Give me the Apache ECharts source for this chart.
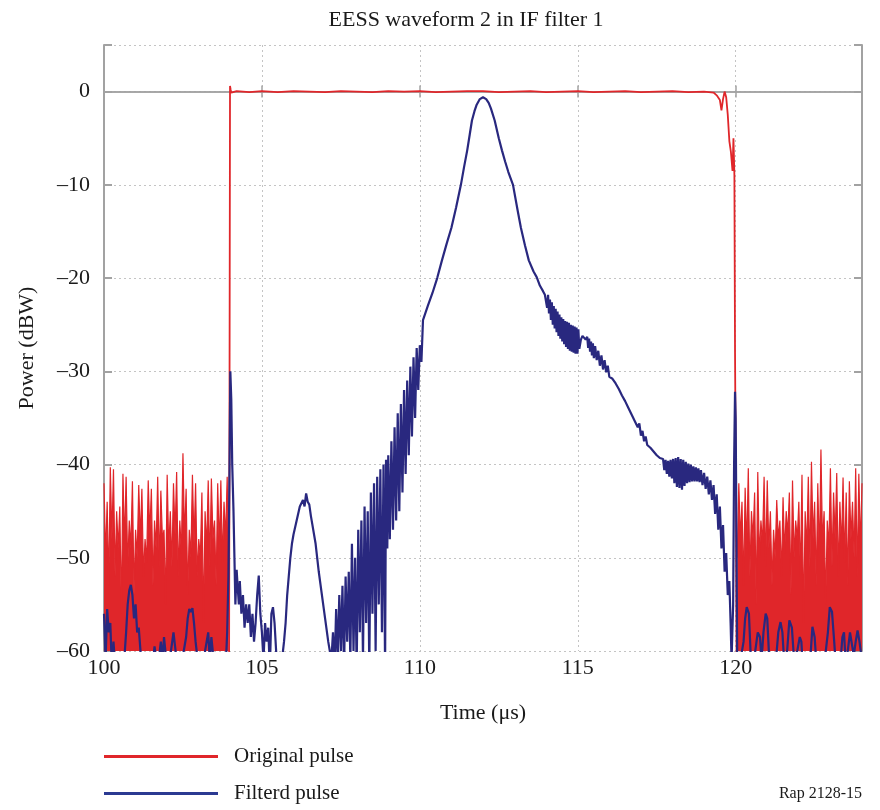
<!DOCTYPE html>
<html><head><meta charset="utf-8">
<script src="https://cdn.jsdelivr.net/npm/echarts@6/dist/echarts.min.js"></script>
<style>html,body{margin:0;padding:0;background:#fff}#c{width:880px;height:810px}</style>
</head><body><div id="c"></div>
<script>
// ---- Axis / labels ----
const chartTitle = 'EESS waveform 2 in IF filter 1';
const xName = 'Time (\u03bcs)';
const yName = 'Power (dBW)';
const xMin = 100, xMax = 124, xStep = 5;
const yMin = -60, yMax = 5, yStep = 10;
const seriesNames = ['Original pulse', 'Filterd pulse'];
const footnote = 'Rap 2128-15';

// ---- Original pulse (red) ----
const noiseStep = 0.05;           // sample spacing of the noise records (µs)
const redLeftStart = 100.0;
const redLeftNoise = [
 -42,-50, -44,-53, -40.3,-48, -40.5,-52, -45,-49, -44.5,-56, -41,-48.5, -41.3,-51, -46,-49, -41.8,-54,
 -47,-50, -42.2,-48, -42.6,-52, -48,-50.5, -41.7,-47.5, -42.6,-53, -46,-49, -41.3,-51, -42.8,-48, -47,-55,
 -41.1,-49, -45,-51, -42,-47.5, -40.8,-52, -46,-49.5, -38.8,-48, -42.6,-54, -47,-50, -41.1,-48.5, -42,-52,
 -48,-50, -43,-57, -45,-49, -41.7,-51, -41.5,-48, -46,-53, -42,-49, -41.7,-50.5, -44,-48, -41.3,-52
];
const redPulse = [
 [103.96,-62],[103.99,0.6],[104.01,0.2],[104.03,-0.1],[104.2,0.05],[104.6,-0.05],[105,0.05],[105.5,-0.05],
 [106,0.05],[106.5,0],[107,-0.05],[107.5,0.05],[108,0],[108.5,-0.05],[109,0.05],[109.5,0],[110,0.05],
 [110.5,-0.05],[111,0],[111.5,0.05],[112,0.05],[112.5,-0.05],[113,0],[113.5,0.05],[114,-0.05],[114.5,0],
 [115,0.05],[115.5,-0.05],[116,0],[116.5,0.05],[117,-0.05],[117.5,0],[118,0.05],[118.5,-0.05],[119,0],
 [119.3,-0.1],[119.4,-0.4],[119.45,-0.2],[119.5,-0.9],[119.55,-2.0],[119.6,-0.8],[119.65,0.0],[119.7,-0.6],
 [119.75,-2.5],[119.8,-5.3],[119.85,-6.5],[119.9,-8.5],[119.93,-5],[119.96,-9],[119.98,-28],[120.01,-45],[120.03,-62]
];
const redRightStart = 120.05;
const redRightNoise = [
 -50,-42, -48,-44, -53,-42.5, -49,-40.4, -52,-45, -48,-43, -55,-40.8, -50,-46, -48.5,-41.3, -51,-41.7,
 -49,-45, -53,-47, -50,-43.8, -48,-46, -52,-43.5, -49.5,-45, -47.5,-43, -54,-41.7, -50,-46, -48,-44,
 -52,-41.1, -57,-45, -49,-41.3, -51,-39.7, -48,-44, -53,-42, -50,-38.4, -48.5,-45, -55,-46, -49,-40.4,
 -51,-43, -48,-40.9, -52,-44, -49,-41.4, -50.5,-43, -53,-41.8, -48,-44, -50,-40.4, -52,-41, -49,-42
];

// ---- Filtered pulse (blue) ----
const blueLeft = [
 [100.0,-56],[100.05,-61],[100.1,-55.5],[100.15,-58],[100.2,-57],[100.25,-62],[100.3,-59],[100.4,-64],
 [100.5,-61],[100.6,-63],[100.7,-58],[100.75,-55],[100.8,-53.5],[100.85,-52.9],[100.9,-54],[100.95,-56.5],
 [101.0,-55],[101.05,-58],[101.1,-57.5],[101.2,-62],[101.3,-65],[101.4,-61],[101.5,-63],[101.6,-59.5],
 [101.7,-62],[101.8,-59],[101.85,-61],[101.9,-58.5],[102.0,-62],[102.1,-60.5],[102.2,-58],[102.3,-61],
 [102.4,-64],[102.5,-60.5],[102.6,-58.5],[102.65,-56.5],[102.7,-55.5],[102.75,-55.8],[102.8,-55.4],
 [102.85,-57],[102.9,-59],[103.0,-62],[103.1,-64],[103.2,-60],[103.3,-58],[103.35,-61],[103.4,-58.5],
 [103.5,-62],[103.6,-65],[103.7,-63],[103.8,-60.5],[103.85,-62],[103.9,-58],[103.94,-52],[103.97,-42],
 [104.0,-30],[104.03,-33],[104.06,-40],[104.1,-45],[104.13,-50],[104.16,-55],[104.2,-51.3],[104.23,-53],
 [104.27,-55],[104.3,-52.5],[104.35,-56],[104.4,-54],[104.45,-57.5],[104.5,-55],[104.55,-57],[104.6,-55],
 [104.65,-58.5],[104.7,-56],[104.75,-59],[104.8,-57],[104.85,-54],[104.9,-51.9],[104.95,-56],[105.0,-58],
 [105.05,-61],[105.1,-57],[105.15,-59],[105.2,-57.5],[105.25,-62],[105.3,-56],[105.35,-55.3],[105.4,-57],
 [105.45,-60],[105.5,-63],[105.6,-62],[105.7,-59],[105.75,-57],[105.8,-54],[105.85,-52],[105.9,-50],
 [105.95,-48.5],[106.0,-47.5],[106.1,-46],[106.2,-44.5],[106.3,-43.8],[106.35,-44.5],[106.4,-43.1],
 [106.45,-44],[106.5,-44.3],[106.55,-45.5],[106.6,-46.5],[106.7,-48.5],[106.75,-50],[106.8,-51.5],
 [106.9,-54],[107.0,-56.5],[107.1,-59],[107.2,-61]
];
const blueRise = [
 [107.25,-58],[107.3,-62],[107.35,-55.5],[107.4,-61],[107.45,-54],[107.5,-60],[107.55,-53],[107.6,-62],
 [107.65,-52],[107.7,-59],[107.75,-51.5],[107.8,-61],[107.85,-48.5],[107.9,-60],[107.95,-50],[108.0,-62],
 [108.05,-47],[108.1,-58],[108.15,-46],[108.2,-61],[108.25,-44.5],[108.3,-57],[108.35,-45],[108.4,-62],
 [108.45,-43],[108.5,-56],[108.55,-42],[108.6,-60],[108.65,-41.3],[108.7,-55],[108.75,-40.5],[108.8,-58],
 [108.85,-40],[108.9,-62],[108.93,-39.5],[108.97,-49],[109.0,-39],[109.05,-48],[109.1,-37.5],[109.15,-47],
 [109.2,-36],[109.25,-46],[109.3,-34.5],[109.35,-45],[109.4,-33.5],[109.45,-43],[109.5,-32],[109.55,-41],
 [109.6,-31],[109.65,-39],[109.7,-29.5],[109.75,-37],[109.8,-28.5],[109.85,-35],[109.9,-27.5],
 [109.95,-32],[110.0,-27.2],[110.05,-29]
];
const bluePeak = [
 [110.1,-24.5],[110.25,-23],[110.4,-21.6],[110.55,-20],[110.7,-18.1],[110.85,-16.3],[111.0,-14.6],
 [111.15,-12.4],[111.3,-10],[111.4,-8.1],[111.5,-6.3],[111.58,-4.6],[111.65,-3.1],[111.73,-2.1],
 [111.8,-1.4],[111.9,-0.8],[112.0,-0.6],[112.1,-0.8],[112.18,-1.2],[112.25,-1.8],[112.37,-3.1],
 [112.5,-5],[112.6,-6.3],[112.7,-7.5],[112.8,-8.6],[112.95,-10],[113.1,-12.8],[113.2,-14.6],
 [113.33,-16.5],[113.45,-18.1],[113.6,-19.3],[113.7,-19.9],[113.8,-20.8],[113.9,-21.4],[113.96,-21.8]
];
const blueShoulder = [
 [114.0,-21.8],[114.03,-23.2],[114.06,-21.8],[114.09,-23.8],[114.12,-22.3],[114.15,-24.5],[114.18,-22.6],
 [114.21,-25],[114.24,-23],[114.27,-25.4],[114.3,-23.3],[114.33,-25.8],[114.36,-23.6],[114.39,-26.2],
 [114.42,-23.9],[114.45,-26.5],[114.48,-24.2],[114.51,-26.8],[114.54,-24.4],[114.57,-27.1],[114.6,-24.6],
 [114.63,-27.4],[114.66,-24.7],[114.69,-27.6],[114.72,-24.8],[114.75,-27.8],[114.78,-25],[114.81,-27.9],
 [114.84,-25.1],[114.87,-28.0],[114.9,-25.2],[114.93,-28.1],[114.96,-25.3],[114.99,-28.1],[115.02,-25.5],
 [115.05,-27.6],[115.1,-26.6],[115.15,-26.2],[115.2,-26.0],[115.25,-26.6],[115.3,-26.3],[115.33,-27.5],
 [115.36,-26.5],[115.39,-27.9],[115.42,-26.8],[115.45,-28.3],[115.48,-27.0],[115.51,-28.6],[115.55,-27.3],
 [115.6,-28.8],[115.65,-27.8],[115.7,-29.4],[115.75,-28.3],[115.8,-29.8],[115.85,-28.8],[115.9,-30.1],
 [115.95,-29.4],[116.0,-30.6],[116.1,-30.8],[116.2,-31.3],[116.3,-31.9],[116.4,-32.6],[116.5,-33.2],
 [116.6,-33.9],[116.7,-34.6],[116.8,-35.3],[116.9,-36],[116.95,-35.6],[117.0,-36.9],[117.05,-36.4],
 [117.1,-37.5],[117.15,-37.0],[117.2,-37.9],[117.3,-38.2],[117.4,-38.6],[117.5,-39.0],[117.6,-39.3],
 [117.7,-39.4],[117.74,-40.6],[117.78,-39.5],[117.82,-41.0],[117.86,-39.6],[117.9,-41.3],[117.94,-39.5],
 [117.98,-41.5],[118.02,-39.4],[118.06,-42.0],[118.1,-39.3],[118.14,-42.4],[118.18,-39.2],[118.22,-42.5],
 [118.26,-39.4],[118.3,-42.7],[118.34,-39.5],[118.38,-42.3],[118.42,-39.7],[118.46,-42.0],[118.5,-39.9],
 [118.54,-41.9],[118.58,-40.0],[118.62,-41.8],[118.66,-40.2],[118.7,-41.8],[118.74,-40.3],[118.78,-41.8],
 [118.82,-40.4],[118.86,-41.9],[118.9,-40.6],[118.95,-42.2],[119.0,-40.9],[119.05,-42.6],[119.1,-41.3],
 [119.15,-43.2],[119.2,-41.7],[119.25,-43.8],[119.3,-42.2],[119.35,-45.3],[119.4,-43.2],[119.45,-47],
 [119.5,-44.5],[119.55,-49],[119.6,-46.5],[119.65,-51.5],[119.7,-49.5],[119.75,-54],[119.8,-52.5],
 [119.84,-57],[119.87,-61],[119.92,-55],[119.95,-40],[119.98,-32.2],[120.0,-35],[120.02,-45],[120.05,-62]
];
const blueRight = [
 [120.15,-61],[120.25,-59],[120.3,-56.5],[120.35,-55.3],[120.42,-56],[120.47,-60],[120.55,-63],[120.62,-60],
 [120.7,-58],[120.77,-58.5],[120.82,-61],[120.88,-58],[120.95,-56],[121.0,-56.5],[121.05,-60],[121.15,-64],
 [121.25,-62],[121.35,-58],[121.42,-56.9],[121.48,-58],[121.55,-62],[121.63,-60],[121.7,-56.7],[121.78,-57.5],
 [121.85,-61],[121.95,-60],[122.03,-58.5],[122.08,-59],[122.15,-63],[122.3,-64],[122.38,-60],[122.43,-57.4],
 [122.5,-58.5],[122.57,-62],[122.7,-64],[122.82,-61],[122.92,-58],[122.98,-55.3],[123.05,-55.8],[123.12,-59],
 [123.2,-63],[123.3,-62],[123.38,-58.5],[123.43,-58],[123.48,-61],[123.55,-60],[123.62,-58],[123.68,-58.2],
 [123.74,-60.5],[123.8,-59],[123.86,-57.8],[123.92,-59],[124.0,-61]
];

// ---- build series data ----
function sampled(t0, vals) { return vals.map((v, i) => [+(t0 + i * noiseStep).toFixed(3), v]); }
const redLeftData = sampled(redLeftStart, redLeftNoise);
const redRightData = sampled(redRightStart, redRightNoise);
const blueData = [].concat(blueLeft, blueRise, bluePeak, blueShoulder, blueRight);

const RED = '#e0262a', BLUE = '#29287f', LEGBLUE = '#2b3a92';
const SERIF = '"Liberation Serif","Times New Roman",serif';
const axisGray = '#a2a2a2';
const fmtNum = v => (v < 0 ? '\u2013' + Math.abs(v) : String(v));

function legendAt(top, name, color) {
  return {
    orient: 'vertical', left: 104, top: top, padding: 0,
    itemWidth: 114, itemHeight: 3, icon: 'rect',
    textStyle: { fontFamily: SERIF, fontSize: 21, color: '#1a1a1a', padding: [0, 0, 0, 11] },
    data: [{ name: name, itemStyle: { color: color } }]
  };
}
function redSeries(data, area, width) {
  return {
    name: seriesNames[0], type: 'line', data: data, showSymbol: false, symbol: 'none',
    clip: true, sampling: null, z: 2,
    lineStyle: { color: RED, width: width }, itemStyle: { color: RED },
    areaStyle: area ? { color: RED, opacity: 1, origin: 'start' } : undefined
  };
}

const chart = echarts.init(document.getElementById('c'), null, { renderer: 'canvas' });
chart.setOption({
  animation: false,
  backgroundColor: '#fff',
  title: {
    text: chartTitle, left: 461, top: 4, textAlign: 'center',
    textStyle: { fontFamily: SERIF, fontSize: 22, fontWeight: 'normal', color: '#1a1a1a' }
  },
  grid: { left: 104, right: 18, top: 45, bottom: 159, show: false },
  legend: [legendAt(746, seriesNames[0], RED), legendAt(783, seriesNames[1], LEGBLUE)],
  xAxis: [
    {
      type: 'value', min: xMin, max: xMax, interval: xStep, position: 'bottom',
      name: xName, nameLocation: 'middle', nameGap: 51,
      nameTextStyle: { fontFamily: SERIF, fontSize: 22, color: '#1a1a1a' },
      axisLine: { show: true, lineStyle: { color: axisGray, width: 1.5 } },
      axisTick: { show: true, inside: true, length: 6, lineStyle: { color: axisGray, width: 1.5 } },
      axisLabel: { margin: 6, fontFamily: SERIF, fontSize: 22, color: '#1a1a1a',
        formatter: v => (v === xMax ? '' : fmtNum(v)) },
      splitLine: { show: true, lineStyle: { color: '#c4c4c4', type: [2, 3], width: 1 } }
    },
    {
      type: 'value', min: xMin, max: xMax, interval: xStep, position: 'top',
      axisLine: { show: true, lineStyle: { color: axisGray, width: 1.5 } },
      axisTick: { show: true, inside: true, length: 6, lineStyle: { color: axisGray, width: 1.5 } },
      axisLabel: { show: false }, splitLine: { show: false }
    }
  ],
  yAxis: [
    {
      type: 'value', min: yMin, max: yMax, interval: yStep, position: 'left',
      name: yName, nameLocation: 'middle', nameGap: 66,
      nameTextStyle: { fontFamily: SERIF, fontSize: 22, color: '#1a1a1a' },
      axisLine: { show: true, lineStyle: { color: axisGray, width: 2 } },
      axisTick: { show: true, inside: true, length: 8, lineStyle: { color: axisGray, width: 2 } },
      axisLabel: { margin: 14, fontFamily: SERIF, fontSize: 22, color: '#1a1a1a',
        formatter: v => (v > 0 ? '' : fmtNum(v)) },
      splitLine: { show: true, lineStyle: { color: '#c4c4c4', type: [2, 3], width: 1 } }
    },
    {
      type: 'value', min: yMin, max: yMax, interval: yStep, position: 'right',
      axisLine: { show: true, lineStyle: { color: axisGray, width: 2 } },
      axisTick: { show: true, inside: true, length: 8, lineStyle: { color: axisGray, width: 2 } },
      axisLabel: { show: false }, splitLine: { show: false }
    }
  ],
  series: [
    redSeries(redLeftData, true, 1.2),
    redSeries(redPulse, false, 1.8),
    redSeries(redRightData, true, 1.2),
    {
      name: seriesNames[1], type: 'line', data: blueData, showSymbol: false, symbol: 'none',
      clip: true, sampling: null, z: 3,
      lineStyle: { color: BLUE, width: 2.2 }, itemStyle: { color: BLUE }
    }
  ],
  graphic: [
    { type: 'text', right: 18, top: 786,
      style: { text: footnote, font: '16px ' + SERIF, fill: '#1a1a1a' } }
  ]
});
</script>
</body></html>
